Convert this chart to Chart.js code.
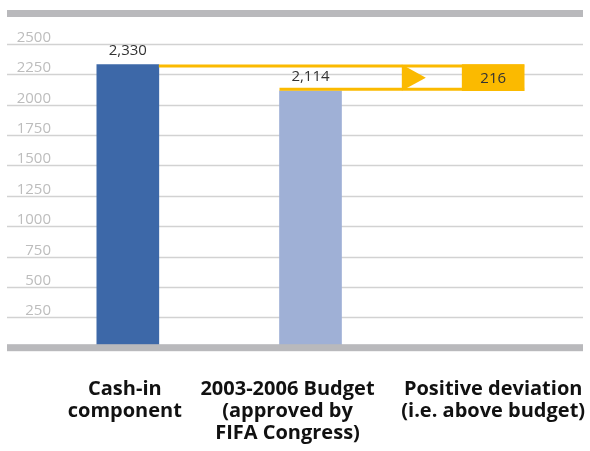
<!DOCTYPE html>
<html>
<head>
<meta charset="utf-8">
<title>Cash-in vs budget</title>
<script src="https://cdn.jsdelivr.net/npm/chart.js@4/dist/chart.umd.min.js"></script>
<style>
  html, body { margin: 0; padding: 0; background: #fff; }
  #chart { display: block; }
</style>
</head>
<body>
<canvas id="chart" width="590" height="451"></canvas>
<script>
// categories and values (USD million)
const categories = [
  ['Cash-in', 'component'],
  ['2003-2006 Budget', '(approved by', 'FIFA Congress)'],
  ['Positive deviation', '(i.e. above budget)']
];
const cashIn = 2330;
const budget = 2114;
const deviation = cashIn - budget; // 216
const barValues = [cashIn, budget, [budget, cashIn]];
const barColors = ['#3d68a8', '#9fb0d6', '#fbba00'];
const yTicks = [250, 500, 750, 1000, 1250, 1500, 1750, 2000, 2250, 2500];
const yMax = 2750;

const YELLOW = '#fbba00';
const fmt = v => v.toLocaleString('en-US');

// gridlines, axis bars and tick labels drawn under the bars
const backdrop = {
  id: 'backdrop',
  beforeDatasetsDraw(chart) {
    const ctx = chart.ctx;
    const y = chart.scales.y;
    const x0 = 7, x1 = 583;
    ctx.save();
    ctx.strokeStyle = '#d2d2d2';
    ctx.lineWidth = 1.5;
    ctx.fillStyle = '#bdbdbd';
    ctx.font = '15px "Open Sans"';
    ctx.textAlign = 'right';
    ctx.textBaseline = 'alphabetic';
    yTicks.forEach(t => {
      const py = Math.round(y.getPixelForValue(t)) + 0.5;
      ctx.beginPath();
      ctx.moveTo(x0, py);
      ctx.lineTo(x1, py);
      ctx.stroke();
      ctx.fillText(String(t), 51, py - 3);
    });
    ctx.restore();
  },
  afterDatasetsDraw(chart) {
    const ctx = chart.ctx;
    const y = chart.scales.y;
    ctx.save();
    ctx.fillStyle = '#b9b9bc';
    [0, yMax].forEach(v => {
      const py = y.getPixelForValue(v);
      ctx.fillRect(7, py - 3.5, 576, 7);
    });
    ctx.restore();
  }
};

// yellow outline from the budget bar to the deviation bar, with arrow head
const deviationArrow = {
  id: 'deviationArrow',
  afterDatasetsDraw(chart) {
    const ctx = chart.ctx;
    const bars = chart.getDatasetMeta(0).data;
    const b1 = bars[0], b2 = bars[1], b3 = bars[2];
    const top = b3.y, bottom = b3.base;
    const right = b3.x + b3.width / 2;
    ctx.save();
    ctx.strokeStyle = YELLOW;
    ctx.lineWidth = 3;
    ctx.beginPath();
    ctx.moveTo(b1.x + b1.width / 2, top + 1.5);
    ctx.lineTo(right, top + 1.5);
    ctx.moveTo(b2.x - b2.width / 2, bottom - 1.5);
    ctx.lineTo(right, bottom - 1.5);
    ctx.stroke();
    const ax = ((b2.x + b2.width / 2) + (b3.x - b3.width / 2)) / 2;
    ctx.fillStyle = YELLOW;
    ctx.beginPath();
    ctx.moveTo(ax, top);
    ctx.lineTo(ax + 24, (top + bottom) / 2);
    ctx.lineTo(ax, bottom);
    ctx.closePath();
    ctx.fill();
    ctx.restore();
  }
};

// value labels and multi-line category labels
const labels = {
  id: 'labels',
  afterDraw(chart) {
    const ctx = chart.ctx;
    const bars = chart.getDatasetMeta(0).data;
    ctx.save();
    ctx.fillStyle = '#333';
    ctx.font = '15px "Open Sans"';
    ctx.textAlign = 'center';
    ctx.textBaseline = 'middle';
    ctx.fillText(fmt(cashIn), bars[0].x, bars[0].y - 14);
    ctx.fillText(fmt(budget), bars[1].x, bars[1].y - 14);
    ctx.fillText(fmt(deviation), bars[2].x, (bars[2].y + bars[2].base) / 2 + 1);

    const nudge = [-3, -23, 0];
    ctx.fillStyle = '#111';
    ctx.font = 'bold 20px "Open Sans"';
    ctx.textBaseline = 'alphabetic';
    categories.forEach((lines, i) => {
      const cx = chart.scales.x.getPixelForValue(i) + nudge[i];
      lines.forEach((line, j) => ctx.fillText(line, cx, 395 + j * 22));
    });
    ctx.restore();
  }
};

new Chart(document.getElementById('chart'), {
  type: 'bar',
  data: {
    labels: categories.map(c => c.join(' ')),
    datasets: [{
      data: barValues,
      backgroundColor: barColors,
      borderWidth: 0,
      barThickness: 62
    }]
  },
  options: {
    responsive: false,
    animation: false,
    devicePixelRatio: 1,
    layout: { padding: { left: 36.5, right: 5.5, top: 13.5, bottom: 103.3 } },
    plugins: { legend: { display: false }, tooltip: { enabled: false } },
    scales: {
      x: { display: false },
      y: { display: false, min: 0, max: yMax }
    }
  },
  plugins: [backdrop, deviationArrow, labels]
});
</script>
</body>
</html>
